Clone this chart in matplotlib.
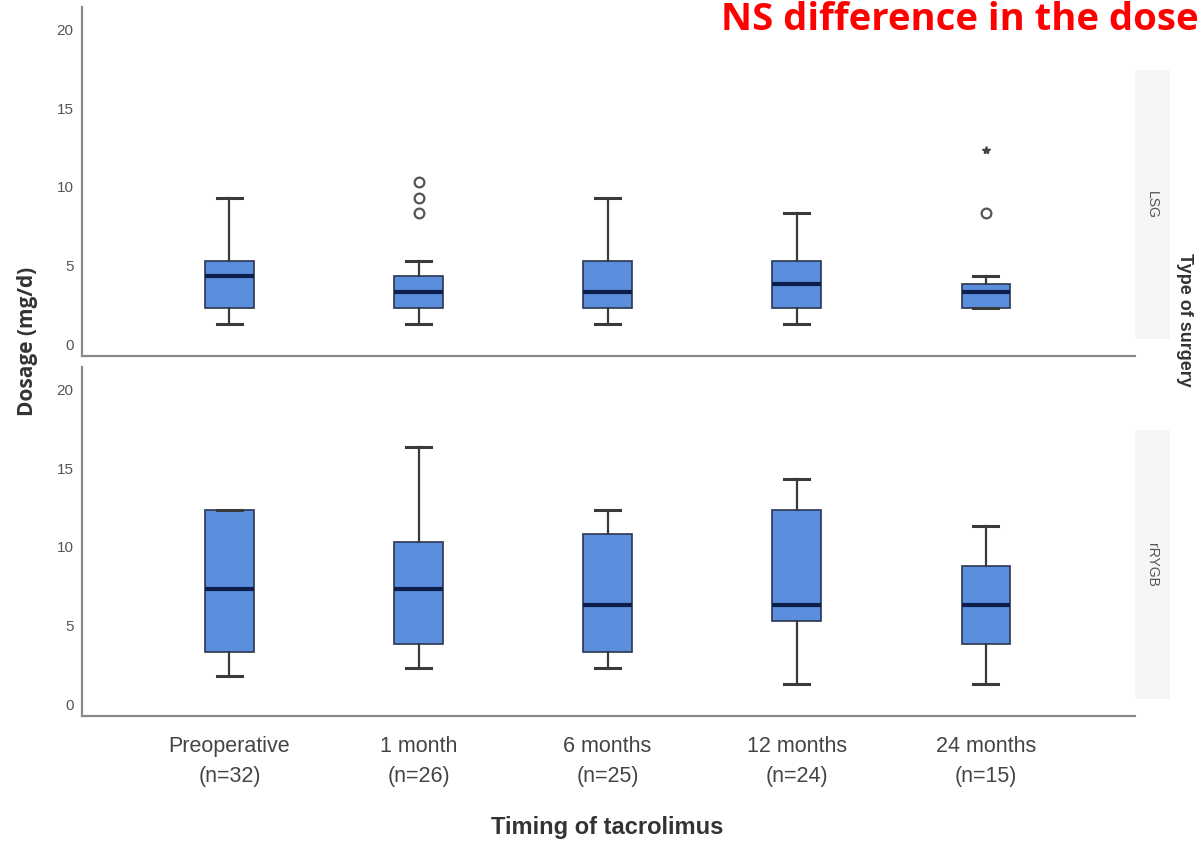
import matplotlib
matplotlib.use("Agg")
import matplotlib.pyplot as plt
from matplotlib.patches import Rectangle
from matplotlib.transforms import ScaledTranslation

categories = ["Preoperative\n(n=32)", "1 month\n(n=26)", "6 months\n(n=25)",
              "12 months\n(n=24)", "24 months\n(n=15)"]

# LSG panel
lsg_whislo = [1, 1, 1, 1, 2]
lsg_q1 = [2, 2, 2, 2, 2]
lsg_med = [4, 3, 3, 3.5, 3]
lsg_q3 = [5, 4, 5, 5, 3.5]
lsg_whishi = [9, 5, 9, 8, 4]
lsg_outliers = [[], [8, 9, 10], [], [], [8]]
lsg_extremes = [[], [], [], [], [12]]

# rRYGB panel
ry_whislo = [1.5, 2, 2, 1, 1]
ry_q1 = [3, 3.5, 3, 5, 3.5]
ry_med = [7, 7, 6, 6, 6]
ry_q3 = [12, 10, 10.5, 12, 8.5]
ry_whishi = [12, 16, 12, 14, 11]
ry_outliers = [[], [], [], [], []]
ry_extremes = [[], [], [], [], []]

yticks = [0, 5, 10, 15, 20]
panel_labels = ["LSG", "rRYGB"]

fig = plt.figure(figsize=(12.01, 8.45), dpi=100)
fig.patch.set_facecolor("white")

L, R = 82 / 1201, 1135 / 1201
ax_top = fig.add_axes([L, 1 - 357 / 845, R - L, (357 - 8) / 845])
ax_bot = fig.add_axes([L, 1 - 717 / 845, R - L, (717 - 368) / 845])

box_color = "#5b8fdd"
edge_color = "#2a3550"
med_color = "#0c1f4a"
whisk_color = "#3a3a3a"
spine_color = "#8a8a8a"

def draw(ax, wl, q1, med, q3, wh, outl, extr, label, is_bottom):
    stats = []
    for i in range(len(categories)):
        stats.append(dict(whislo=wl[i], q1=q1[i], med=med[i], q3=q3[i],
                          whishi=wh[i], fliers=[]))
    ax.bxp(stats, positions=list(range(len(categories))), widths=0.255,
           patch_artist=True, showfliers=False, capwidths=0.13,
           boxprops=dict(facecolor=box_color, edgecolor=edge_color, linewidth=1.2),
           medianprops=dict(color=med_color, linewidth=3),
           whiskerprops=dict(color=whisk_color, linewidth=1.6),
           capprops=dict(color=whisk_color, linewidth=2.2))
    for i, vals in enumerate(outl):
        if vals:
            ax.plot([i] * len(vals), vals, linestyle="none", marker="o",
                    markersize=7, markerfacecolor="white",
                    markeredgecolor="#555555", markeredgewidth=1.6)
    for i, vals in enumerate(extr):
        if vals:
            ax.plot([i] * len(vals), vals, linestyle="none", marker="*",
                    markersize=6, color="#444444")
    ax.set_xlim(-0.78, 4.79)
    ax.set_ylim(-1.05, 21.1)
    ax.set_yticks(yticks)
    ax.set_yticklabels([str(t) for t in yticks], fontsize=11, color="#555555",
                       family="Liberation Sans")
    ax.tick_params(axis="y", length=0, pad=6)
    off = ScaledTranslation(0, -4 / 100, fig.dpi_scale_trans)
    for lbl in ax.get_yticklabels():
        lbl.set_transform(lbl.get_transform() + off)
    for s in ["top", "right"]:
        ax.spines[s].set_visible(False)
    for s in ["left", "bottom"]:
        ax.spines[s].set_color(spine_color)
        ax.spines[s].set_linewidth(1.6)
    if is_bottom:
        ax.set_xticks(range(len(categories)))
        ax.set_xticklabels(categories, fontsize=15.5, color="#444444",
                           family="Liberation Sans", linespacing=1.55)
        ax.tick_params(axis="x", length=0, pad=14)
    else:
        ax.set_xticks([])
    # facet strip on the right
    ax.add_patch(Rectangle((1.0, 0.05), 0.033, 0.77, transform=ax.transAxes,
                           facecolor="#f6f6f6", edgecolor="none", clip_on=False))
    ax.text(1.016, 0.435, label, transform=ax.transAxes, rotation=-90,
            ha="center", va="center", fontsize=10, color="#555555",
            family="Liberation Sans")

draw(ax_top, lsg_whislo, lsg_q1, lsg_med, lsg_q3, lsg_whishi,
     lsg_outliers, lsg_extremes, panel_labels[0], False)
draw(ax_bot, ry_whislo, ry_q1, ry_med, ry_q3, ry_whishi,
     ry_outliers, ry_extremes, panel_labels[1], True)

fig.text(28 / 1201, 1 - 341 / 845, "Dosage (mg/d)", rotation=90, ha="center",
         va="center", fontsize=15, fontweight="bold", color="#333333",
         family="Open Sans")
fig.text(607 / 1201, 1 - 828 / 845, "Timing of tacrolimus", ha="center",
         va="center", fontsize=17, fontweight="bold", color="#333333",
         family="Liberation Sans")
fig.text(1185 / 1201, 1 - 320 / 845, "Type of surgery", rotation=-90,
         ha="center", va="center", fontsize=13, fontweight="bold",
         color="#333333", family="Liberation Sans")
fig.text(1199 / 1201, 1 - 30 / 845, "NS difference in the dose", ha="right",
         va="baseline", fontsize=27.5, fontweight="bold", color="#ff0000",
         family="Open Sans")

fig.savefig("out.png", dpi=100, facecolor="white")
